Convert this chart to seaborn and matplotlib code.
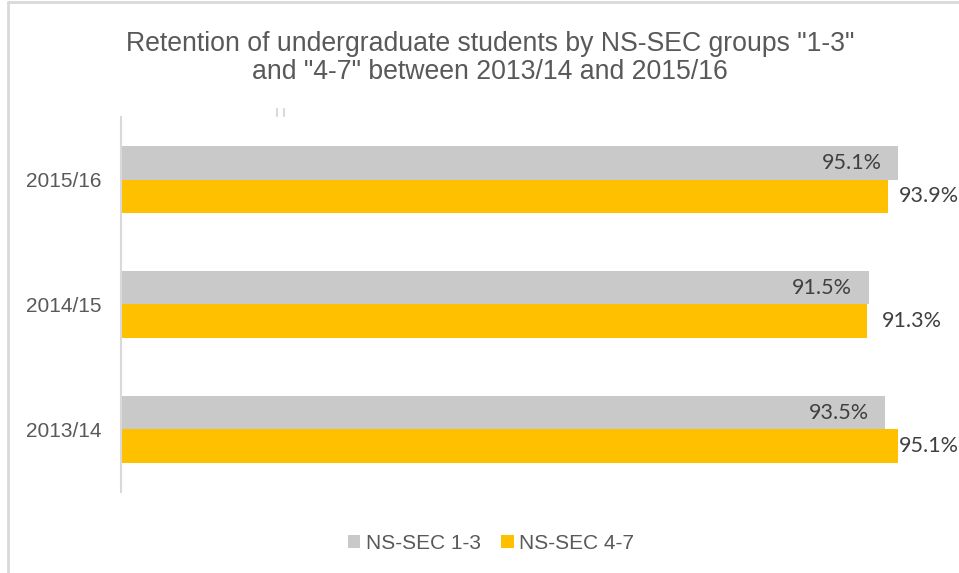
import matplotlib
matplotlib.use("Agg")
import matplotlib.pyplot as plt
from matplotlib.lines import Line2D
from matplotlib.patches import Patch
import seaborn as sns
import pandas as pd

# Retention rates (%) by academic year and NS-SEC group
years = ["2015/16", "2014/15", "2013/14"]
groups = ["NS-SEC 1-3", "NS-SEC 4-7"]
ns_sec_1_3 = [95.1, 91.5, 93.5]
ns_sec_4_7 = [93.9, 91.3, 95.1]

palette = {"NS-SEC 1-3": "#C9C9C9", "NS-SEC 4-7": "#FFC000"}
text_grey = "#595959"
label_grey = "#404040"

df = pd.DataFrame({
    "year": years * 2,
    "group": [groups[0]] * len(years) + [groups[1]] * len(years),
    "rate": ns_sec_1_3 + ns_sec_4_7,
})

sns.set_theme(style="white")
plt.rcParams["font.family"] = ["Liberation Sans", "DejaVu Sans"]

fig = plt.figure(figsize=(9.59, 5.73), dpi=100)
ax = fig.add_axes([0.1262, 0.1414, 0.852, 0.6544])

sns.barplot(data=df, x="rate", y="year", hue="group", order=years,
            hue_order=groups, palette=palette, orient="h", width=0.536,
            saturation=1, linewidth=0, legend=False, ax=ax)

ax.set_xlim(0, 100)
ax.set_ylim(2.5, -0.5)
ax.set_xlabel("")
ax.set_ylabel("")
ax.set_xticks([])
ax.tick_params(axis="y", length=0, pad=14, labelsize=15, labelcolor=text_grey)
for side in ["top", "right", "bottom"]:
    ax.spines[side].set_visible(False)
ax.spines["left"].set_color("#D9D9D9")
ax.spines["left"].set_linewidth(1.5)

# Value labels: inside end for NS-SEC 1-3, outside end for NS-SEC 4-7
label_font = ["Lato", "DejaVu Sans"]
label_size = 15.5
for container, grp in zip(ax.containers, groups):
    for bar in container:
        v = bar.get_width()
        yc = bar.get_y() + bar.get_height() / 2
        if grp == groups[0]:
            ax.text(v - 2.0, yc, f"{v:.1f}%", ha="right", va="center",
                    fontsize=label_size, color=label_grey, family=label_font)
        else:
            # outside end, kept inside the figure's right edge
            ax.text(min(v + 1.85, 95.15), yc, f"{v:.1f}%", ha="left",
                    va="center", fontsize=label_size, color=label_grey,
                    family=label_font, clip_on=False)

fig.text(0.511, 0.899, 'Retention of undergraduate students by NS-SEC groups "1-3"\n'
         'and "4-7" between 2013/14 and 2015/16', ha="center", va="center",
         fontsize=19.2, color=text_grey, linespacing=1.12)

# Small tick marks above the plot area
for xf in (0.2893, 0.2966):
    fig.add_artist(Line2D([xf, xf], [0.798, 0.81], color="#D9D9D9", lw=1.5,
                          transform=fig.transFigure))

handles = [Patch(facecolor=palette[g], edgecolor="none") for g in groups]
fig.legend(handles, groups, loc="center", bbox_to_anchor=(0.512, 0.052),
           ncol=2, frameon=False, fontsize=15, labelcolor=text_grey,
           handlelength=0.6, handleheight=0.6, handletextpad=0.25,
           columnspacing=1.0)

# Chart-area border (top and left edges)
fig.add_artist(Line2D([0.0085, 1.0], [0.9965, 0.9965], color="#D9D9D9",
                      lw=2, transform=fig.transFigure))
fig.add_artist(Line2D([0.0085, 0.0085], [0.0, 0.9965], color="#D9D9D9",
                      lw=2, transform=fig.transFigure))

fig.savefig("out.png", dpi=100, facecolor="white")
